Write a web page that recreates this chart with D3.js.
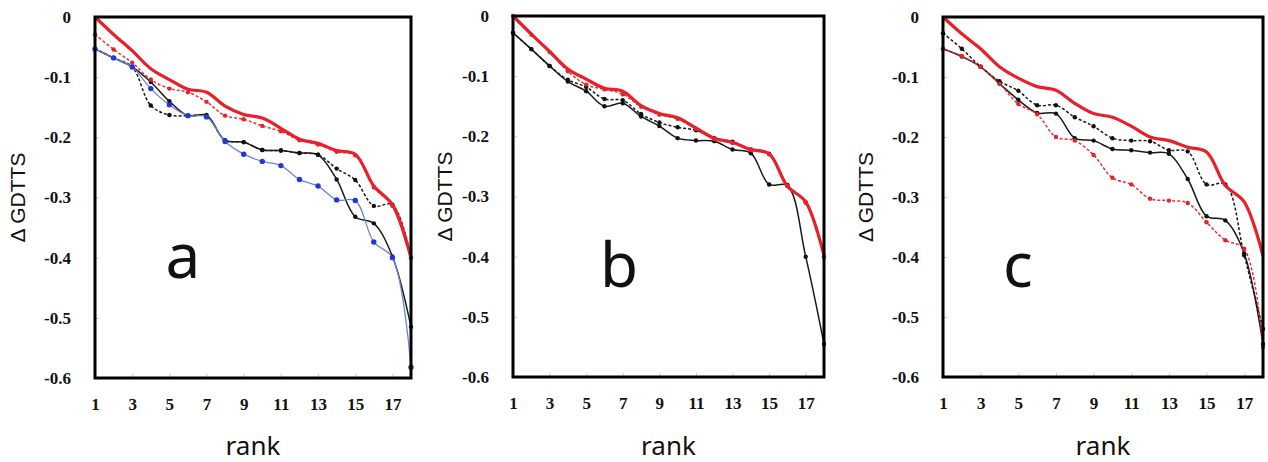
<!DOCTYPE html>
<html>
<head>
<meta charset="utf-8">
<script src="https://cdn.jsdelivr.net/npm/d3@7.9.0/dist/d3.min.js"></script>
<style>
  body { margin: 0; background: #fff; }
  svg { display: block; }
  .tick text { font-family: "Liberation Serif", "Times New Roman", serif; font-weight: bold; font-size: 17px; fill: #111; }
  .tick line { stroke: #c8c8c8; }
  .ytitle { font-family: "Liberation Sans", Arial, sans-serif; font-size: 21px; fill: #111; }
  .xtitle { font-family: "Noto Sans", "Open Sans", sans-serif; font-size: 26px; fill: #111; }
  .letter { font-family: "Noto Sans", "Open Sans", sans-serif; font-size: 62px; fill: #111; }
</style>
</head>
<body>
<svg id="chart" width="1268" height="462"></svg>
<script>
const ranks = [1, 2, 3, 4, 5, 6, 7, 8, 9, 10, 11, 12, 13, 14, 15, 16, 17, 18];
const xTicks = [1, 3, 5, 7, 9, 11, 13, 15, 17];
const yTicks = [0, -0.1, -0.2, -0.3, -0.4, -0.5, -0.6];
const yTickLabels = ['0', '-0.1', '-0.2', '-0.3', '-0.4', '-0.5', '-0.6'];
const panelLetters = ['a', 'b', 'c'];

// panel a
const aRedBold = [0, -0.029, -0.056, -0.086, -0.104, -0.12, -0.125, -0.148, -0.162, -0.168, -0.185, -0.203, -0.21, -0.222, -0.228, -0.281, -0.312, -0.4];
const aRedDash = [-0.029, -0.054, -0.076, -0.104, -0.119, -0.125, -0.141, -0.164, -0.17, -0.181, -0.19, -0.205, -0.212, -0.224, -0.23, -0.283, -0.314, -0.4];
const aBlackSolid = [-0.053, -0.068, -0.083, -0.108, -0.14, -0.164, -0.163, -0.205, -0.208, -0.221, -0.222, -0.226, -0.229, -0.27, -0.332, -0.343, -0.398, -0.515];
const aBlackDash = [-0.053, -0.068, -0.083, -0.147, -0.163, -0.164, -0.165, -0.205, -0.208, -0.221, -0.222, -0.226, -0.229, -0.252, -0.271, -0.314, -0.312, -0.4];
const aBlue = [-0.053, -0.068, -0.083, -0.119, -0.146, -0.164, -0.166, -0.207, -0.228, -0.24, -0.247, -0.27, -0.281, -0.304, -0.305, -0.374, -0.4, -0.582];

// panel b
const bRedBold = [0, -0.03, -0.059, -0.088, -0.105, -0.12, -0.125, -0.149, -0.162, -0.169, -0.186, -0.203, -0.21, -0.222, -0.229, -0.283, -0.309, -0.398];
const bRedDash = [0, -0.031, -0.06, -0.092, -0.114, -0.122, -0.13, -0.151, -0.164, -0.171, -0.188, -0.205, -0.211, -0.223, -0.23, -0.282, -0.31, -0.4];
const bBlackSolid = [-0.028, -0.055, -0.083, -0.109, -0.125, -0.15, -0.145, -0.167, -0.183, -0.203, -0.207, -0.208, -0.222, -0.228, -0.28, -0.282, -0.4, -0.545];
const bBlackDash = [-0.028, -0.055, -0.083, -0.106, -0.118, -0.138, -0.14, -0.163, -0.177, -0.185, -0.19, -0.203, -0.209, -0.222, -0.229, -0.281, -0.31, -0.4];

// panel c
const cRedBold = [0, -0.028, -0.053, -0.083, -0.102, -0.116, -0.122, -0.144, -0.161, -0.167, -0.182, -0.2, -0.206, -0.217, -0.225, -0.281, -0.308, -0.398];
const cRedDash = [-0.053, -0.065, -0.083, -0.111, -0.145, -0.162, -0.2, -0.206, -0.23, -0.268, -0.279, -0.303, -0.306, -0.31, -0.342, -0.372, -0.386, -0.55];
const cBlackSolid = [-0.053, -0.066, -0.083, -0.111, -0.138, -0.16, -0.161, -0.202, -0.206, -0.22, -0.222, -0.226, -0.228, -0.27, -0.332, -0.339, -0.394, -0.545];
const cBlackDash = [-0.027, -0.053, -0.083, -0.107, -0.123, -0.147, -0.147, -0.167, -0.182, -0.202, -0.206, -0.207, -0.222, -0.224, -0.279, -0.279, -0.397, -0.52];

const styles = {
  blackDash: { stroke: '#1a1a1a', width: 1.5, dash: '3,2', dot: '#111', r: 2.2 },
  blackSolid: { stroke: '#1a1a1a', width: 1.5, dash: null, dot: '#111', r: 2.2 },
  redDash: { stroke: '#ec2f35', width: 1.5, dash: '3,2', dot: '#e0262c', r: 2.2 },
  blue: { stroke: '#6a86d2', width: 1.3, dash: null, dot: '#2536d8', r: 2.7 },
  redBold: { stroke: '#e8202a', width: 3.2, dash: null, dot: null, r: 0 },
};

// draw order: first is bottom
const panels = [
  { left: 95, right: 411, top: 17, bottom: 378, titleX: 18, letterX: 183, letterY: 278,
    series: [['blackDash', aBlackDash], ['blackSolid', aBlackSolid], ['redDash', aRedDash], ['blue', aBlue], ['redBold', aRedBold]] },
  { left: 513, right: 824, top: 16, bottom: 377, titleX: 445, letterX: 619, letterY: 287,
    series: [['blackDash', bBlackDash], ['blackSolid', bBlackSolid], ['redDash', bRedDash], ['redBold', bRedBold]] },
  { left: 943, right: 1263, top: 17, bottom: 377, titleX: 866, letterX: 1018, letterY: 287,
    series: [['blackDash', cBlackDash], ['blackSolid', cBlackSolid], ['redDash', cRedDash], ['redBold', cRedBold]] },
];

const svg = d3.select('#chart');

panels.forEach((p, i) => {
  const x = d3.scaleLinear().domain([1, 18]).range([p.left, p.right]);
  const y = d3.scaleLinear().domain([-0.6, 0]).range([p.bottom, p.top]);
  const g = svg.append('g');

  g.append('g')
    .attr('transform', `translate(${p.left},0)`)
    .call(d3.axisLeft(y).tickValues(yTicks).tickFormat((d, j) => yTickLabels[j]).tickSizeInner(-4).tickSizeOuter(0).tickPadding(24))
    .call(ax => ax.select('.domain').remove());

  g.append('g')
    .attr('transform', `translate(0,${p.bottom})`)
    .call(d3.axisBottom(x).tickValues(xTicks).tickFormat(d3.format('d')).tickSizeInner(-4).tickSizeOuter(0).tickPadding(20))
    .call(ax => ax.select('.domain').remove());

  p.series.forEach(([key, values]) => {
    const s = styles[key];
    const pts = ranks.map((r, j) => [r, values[j]]);
    const line = d3.line()
      .x(d => x(d[0]))
      .y(d => y(d[1]))
      .curve(d3.curveCatmullRom.alpha(0.5));
    g.append('path')
      .attr('d', line(pts))
      .attr('fill', 'none')
      .attr('stroke', s.stroke)
      .attr('stroke-width', s.width)
      .attr('stroke-dasharray', s.dash)
      .attr('stroke-linejoin', 'round');
    if (s.dot) {
      g.selectAll(null)
        .data(pts)
        .join('circle')
        .attr('cx', d => x(d[0]))
        .attr('cy', d => y(d[1]))
        .attr('r', s.r)
        .attr('fill', s.dot);
    }
  });

  g.append('rect')
    .attr('x', p.left)
    .attr('y', p.top)
    .attr('width', p.right - p.left)
    .attr('height', p.bottom - p.top)
    .attr('fill', 'none')
    .attr('stroke', '#000')
    .attr('stroke-width', 3);

  g.append('text')
    .attr('class', 'ytitle')
    .attr('transform', `translate(${p.titleX},${(p.top + p.bottom) / 2}) rotate(-90)`)
    .attr('text-anchor', 'middle')
    .attr('dy', '0.35em')
    .text('Δ GDTTS');

  g.append('text')
    .attr('class', 'xtitle')
    .attr('x', (p.left + p.right) / 2)
    .attr('y', 455)
    .attr('text-anchor', 'middle')
    .text('rank');

  g.append('text')
    .attr('class', 'letter')
    .attr('x', p.letterX)
    .attr('y', p.letterY)
    .attr('text-anchor', 'middle')
    .text(panelLetters[i]);
});
</script>
</body>
</html>
